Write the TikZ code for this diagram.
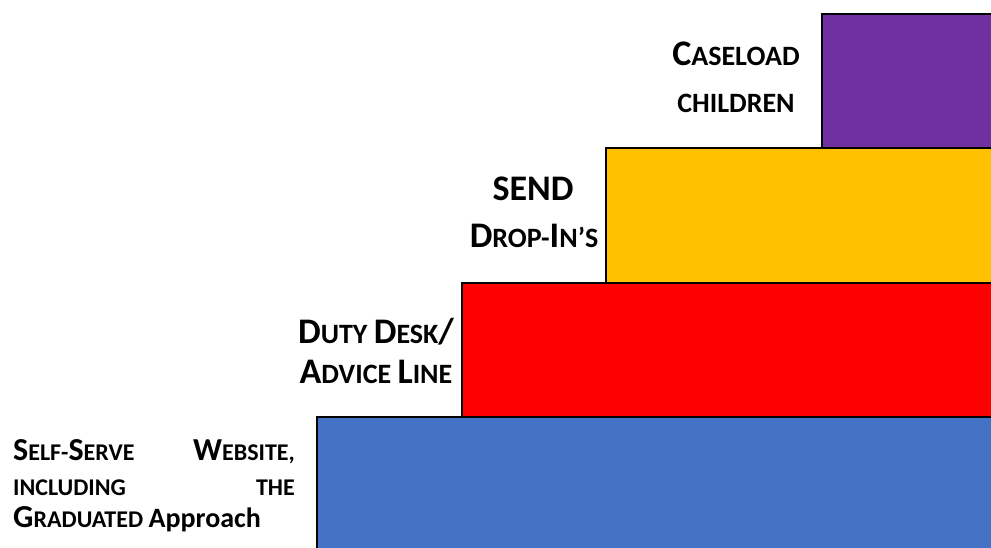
\documentclass[tikz,border=0pt]{standalone}
\usepackage{fontspec}
\setmainfont{Carlito}

% fake small caps: first letter large, rest smaller
\newcommand\capsz[2]{{\fontsize{#1}{#1}\selectfont #2}}

\tikzset{
  stepbox/.style={draw=black,line width=2.5pt},
  steplabel/.style={font=\bfseries,inner sep=0pt,anchor=base},
}

\begin{document}
\begin{tikzpicture}[x=1pt,y=-1pt]
  \useasboundingbox (0,0) rectangle (991,547);
  \clip (0,0) rectangle (991,547);
  % the four steps, top to bottom
  \filldraw[stepbox,fill={rgb,255:red,112;green,48;blue,160}]  (822,14)  rectangle (1010,148);
  \filldraw[stepbox,fill={rgb,255:red,255;green,192;blue,0}]   (606,148) rectangle (1010,283);
  \filldraw[stepbox,fill={rgb,255:red,255;green,0;blue,0}]     (462,283) rectangle (1010,417);
  \filldraw[stepbox,fill={rgb,255:red,68;green,114;blue,196}]  (317,417) rectangle (1010,570);
  % labels
  \node[steplabel] (caseload) at (736,65)  {\capsz{36}{C}\capsz{28}{ASELOAD}};
  \node[steplabel] (children) at (736,112) {\capsz{28}{CHILDREN}};
  \node[steplabel] (send)     at (533,200) {\capsz{36}{SEND}};
  \node[steplabel] (dropins)  at (534,247) {\capsz{36}{D}\capsz{28}{ROP-}\capsz{36}{I}\capsz{28}{N’S}};
  \node[steplabel] (duty)     at (376,343) {\capsz{36}{D}\capsz{28}{UTY }\capsz{36}{D}\capsz{28}{ESK}\capsz{36}{/}};
  \node[steplabel] (advice)   at (376,383) {\capsz{36}{A}\capsz{28}{DVICE }\capsz{36}{L}\capsz{28}{INE}};
  % bottom step, justified by hand
  \node[steplabel,anchor=base west] (selfserve) at (13,460)  {\capsz{32}{S}\capsz{24}{ELF-}\capsz{32}{S}\capsz{24}{ERVE}};
  \node[steplabel,anchor=base east] (website)   at (295,460) {\capsz{32}{W}\capsz{24}{EBSITE,}};
  \node[steplabel,anchor=base west] (including) at (13,495)  {\capsz{24}{INCLUDING}};
  \node[steplabel,anchor=base east] (the)       at (295,495) {\capsz{24}{THE}};
  \node[steplabel,anchor=base west] (graduated) at (13,527)  {\capsz{32}{G}\capsz{24}{RADUATED }\capsz{28}{Approach}};
\end{tikzpicture}
\end{document}
